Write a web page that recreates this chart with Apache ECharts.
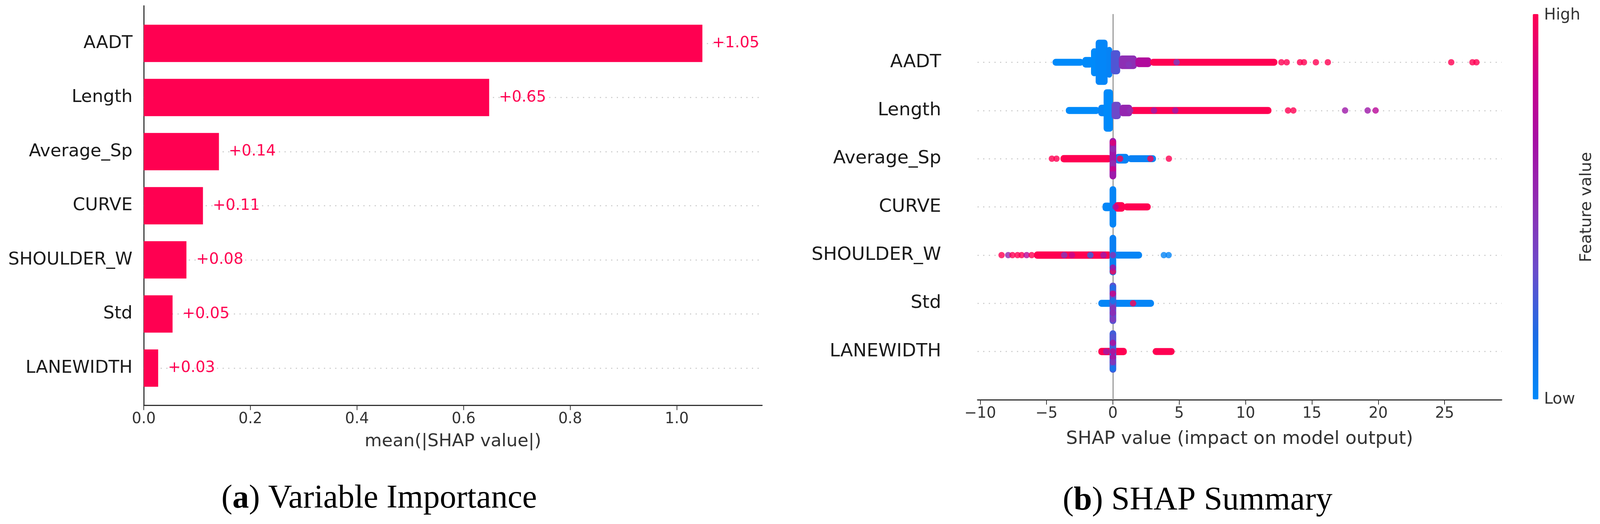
<!DOCTYPE html>
<html>
<head>
<meta charset="utf-8">
<script src="https://cdn.jsdelivr.net/npm/echarts@6/dist/echarts.min.js"></script>
<style>
    html, body { margin: 0; padding: 0; background: #fff; overflow: hidden; }
    #chart { width: 100vw; height: 100vh; }
</style>
</head>
<body>
<div id="chart"></div>
<script>
// feature names, top to bottom
var features = ["AADT", "Length", "Average_Sp", "CURVE", "SHOULDER_W", "Std", "LANEWIDTH"];
// (a) mean(|SHAP value|)
var importance = [1.048, 0.648, 0.141, 0.111, 0.080, 0.054, 0.027];
var importanceTicks = [0, 0.2, 0.4, 0.6, 0.8, 1.0];
// (b) x ticks
var shapTicks = [-10, -5, 0, 5, 10, 15, 20, 25];
var rowIndex = [0, 1, 2, 3, 4, 5, 6];

// beeswarm, dense parts: [feature, shapFrom, shapTo, halfSpread(rows), featureValue 0..1]
var swarmBands = [
    [0, -4.55, -2.2, 0.072, 0.0],
    [0, -2.3, -1.5, 0.11, 0.0],
    [0, -1.65, -1.15, 0.29, 0.0],
    [0, -1.3, -0.4, 0.47, 0.02],
    [0, -0.5, -0.05, 0.32, 0.04],
    [0, -0.15, 0.55, 0.25, 0.28],
    [0, 0.45, 1.8, 0.14, 0.5],
    [0, 1.7, 2.9, 0.10, 0.72],
    [0, 2.8, 12.4, 0.072, 1.0],
    [1, -3.55, -1.0, 0.072, 0.0],
    [1, -1.1, 0.4, 0.12, 0.03],
    [1, -0.7, 0.0, 0.44, 0.0],
    [1, -0.1, 0.6, 0.18, 0.35],
    [1, 0.5, 1.45, 0.12, 0.55],
    [1, 1.3, 11.95, 0.072, 1.0],
    [2, -3.95, -0.1, 0.075, 1.0],
    [2, 0.15, 1.2, 0.10, 0.05],
    [2, 1.1, 3.25, 0.072, 0.05],
    [2, -0.25, 0.25, 0.43, 0.62],
    [3, -0.78, -0.1, 0.09, 0.02],
    [3, -0.25, 0.25, 0.43, 0.03],
    [3, 0.1, 0.9, 0.10, 1.0],
    [3, 0.8, 2.85, 0.072, 1.0],
    [4, -5.95, -0.1, 0.075, 1.0],
    [4, -0.25, 0.25, 0.42, 0.06],
    [4, 0.1, 2.2, 0.072, 0.03],
    [5, -1.1, 3.1, 0.072, 0.03],
    [5, -0.25, 0.25, 0.43, 0.3],
    [6, -1.1, 1.05, 0.075, 1.0],
    [6, 3.0, 4.65, 0.072, 1.0],
    [6, -0.25, 0.25, 0.44, 0.25]
];

// beeswarm, single points: [feature, shap, rowOffset, featureValue]
var swarmDots = [
    [0, 12.7, 0, 1], [0, 13.1, 0, 1], [0, 14.1, 0, 1], [0, 14.4, 0, 1],
    [0, 15.3, 0, 1], [0, 16.2, 0, 1], [0, 25.5, 0, 1], [0, 27.1, 0, 1], [0, 27.4, 0, 1],
    [0, 1.2, 0.05, 0.45], [0, 4.8, 0, 0.4],
    [1, 13.2, 0, 1], [1, 13.6, 0, 1], [1, 17.5, 0, 0.62], [1, 19.2, 0, 0.62], [1, 19.8, 0, 0.75],
    [1, 3.1, 0, 0.6], [1, 4.7, 0, 0.6], [1, 1.3, 0, 0.5],
    [2, -4.6, 0, 1], [2, -4.25, 0, 1], [2, 0.54, 0, 1], [2, 2.83, 0, 1], [2, 4.22, 0, 1],
    [2, 0, -0.33, 0.9], [2, 0, -0.2, 0.5], [2, 0, 0.1, 0.5], [2, 0, 0.22, 0.85], [2, 0, 0.32, 0.6],
    [3, 0.2, 0, 0.75],
    [4, -8.39, 0, 1], [4, -7.89, 0, 0.55], [4, -7.57, 0, 1], [4, -7.19, 0, 1], [4, -6.88, 0, 1],
    [4, -6.5, 0, 0.75], [4, -6.12, 0, 1], [4, -3.67, 0, 0.45], [4, -3.09, 0, 0.8],
    [4, -1.7, 0, 0.2], [4, -0.7, 0, 0.6], [4, 3.84, 0, 0.03], [4, 4.2, 0, 0.03],
    [4, 0, 0.34, 1], [4, 0, 0.26, 0.7], [4, 0, 0, 0.5],
    [5, 1.52, 0, 1], [5, 0, -0.32, 0.15], [5, 0, -0.2, 0.85], [5, 0, -0.05, 0.1],
    [5, 0, 0.1, 0.5], [5, 0, 0.2, 0.55], [5, 0, 0.33, 0.45],
    [6, -0.5, 0, 0.6], [6, 0, -0.3, 0.3], [6, 0, -0.18, 0.75], [6, 0, 0, 0.8],
    [6, 0, 0.12, 0.75], [6, 0, 0.22, 0.5], [6, 0, 0.35, 0.1]
];

// feature value colour scale, low -> high
var featureColors = ["#008afa", "#1a6ce6", "#6a4ccb", "#8d2fb4", "#a50fa5", "#cc008a", "#ff0052"];

(function () {
    var myChart = echarts.init(document.getElementById("chart"));

    // layout is measured on a 4262 x 1341 figure, scaled to the real size
    var sx = myChart.getWidth() / 4262;
    var sy = myChart.getHeight() / 1341;
    var s = Math.min(sx, sy);
    function X(v) { return v * sx; }
    function Y(v) { return v * sy; }
    function F(v) { return v * s; }

    var red = "#ff0051";
    var dotR = F(8.5);
    var dotted = { color: "#cccccc", type: [F(3), F(12)], width: F(3) };
    var spine = { color: "#333", width: F(3) };

    var bandData = swarmBands.map(function (b) {
        return [b[4], b[0], b[1], b[2], b[3]];
    });
    var dotData = swarmDots.map(function (d) {
        return [d[3], d[1], d[0] + d[2]];
    });

    var option = {
        animation: false,
        textStyle: { fontFamily: "DejaVu Sans" },
        grid: [
            { left: X(383), right: X(2232), top: Y(15), bottom: Y(304) },          // (a) spines
            { left: X(383), right: X(2232), top: Y(41.75), bottom: Y(329.75) },    // (a) bars
            { left: X(2604), right: X(262), top: Y(36), bottom: Y(318) }           // (b)
        ],
        xAxis: [
            {
                gridIndex: 0, type: "value", min: 0, max: 1.16,
                name: "mean(|SHAP value|)", nameLocation: "middle", nameGap: F(74),
                nameTextStyle: { fontSize: F(47), color: "#333" },
                axisLine: { show: true, onZero: false, lineStyle: spine },
                axisTick: { show: true, length: F(13), customValues: importanceTicks, lineStyle: { color: "#333", width: F(2) } },
                axisLabel: {
                    customValues: importanceTicks, fontSize: F(40), color: "#333", margin: F(18),
                    formatter: function (v) { return v.toFixed(1); }
                },
                splitLine: { show: false }
            },
            { gridIndex: 1, type: "value", min: 0, max: 1.16, show: false },
            {
                gridIndex: 2, type: "value", min: -10.2, max: 29.3,
                name: "SHAP value (impact on model output)", nameLocation: "middle", nameGap: F(80),
                nameTextStyle: { fontSize: F(49), color: "#333" },
                axisLine: { show: true, onZero: false, lineStyle: spine },
                axisTick: { show: true, length: F(13), customValues: shapTicks, lineStyle: { color: "#333", width: F(2) } },
                axisLabel: {
                    customValues: shapTicks, fontSize: F(40), color: "#333", margin: F(18),
                    formatter: function (v) { return v < 0 ? "\u2212" + Math.abs(v) : String(v); }
                },
                splitLine: { show: false }
            }
        ],
        yAxis: [
            {
                gridIndex: 0, type: "value", min: 0, max: 1,
                axisLine: { show: true, onZero: false, lineStyle: spine },
                axisTick: { show: false }, axisLabel: { show: false }, splitLine: { show: false }
            },
            {
                gridIndex: 1, type: "category", inverse: true, data: features,
                axisLine: { show: false }, axisTick: { show: false },
                axisLabel: { fontSize: F(47), color: "#1a1a1a", margin: F(30) }
            },
            {
                gridIndex: 2, type: "value", min: -1, max: 7, inverse: true,
                axisLine: { show: false }, axisTick: { show: false }, splitLine: { show: false },
                axisLabel: {
                    customValues: rowIndex, fontSize: F(49), color: "#1a1a1a", margin: F(97),
                    formatter: function (v) { return features[v] || ""; }
                }
            }
        ],
        visualMap: {
            type: "continuous", min: 0, max: 1, dimension: 0, seriesIndex: [1, 2],
            orient: "vertical", left: X(4083), top: Y(36), itemWidth: F(15), itemHeight: Y(986),
            padding: 0, calculable: false, hoverLink: false, showLabel: false,
            inRange: { color: featureColors }
        },
        series: [
            {
                name: "mean(|SHAP value|)",
                type: "bar",
                xAxisIndex: 1, yAxisIndex: 1,
                data: importance,
                barWidth: "69%",
                itemStyle: { color: red },
                label: {
                    show: true, position: "right", distance: F(26), color: red, fontSize: F(41),
                    formatter: function (p) { return "+" + p.value.toFixed(2); }
                },
                markLine: {
                    silent: true, symbol: "none", z: 1,
                    label: { show: false }, lineStyle: dotted,
                    data: features.map(function (f) { return { yAxis: f }; })
                }
            },
            {
                name: "swarm",
                type: "custom",
                xAxisIndex: 2, yAxisIndex: 2,
                z: 3,
                encode: { x: [2, 3], y: 1 },
                data: bandData,
                renderItem: function (params, api) {
                    var f = api.value(1), a = api.value(2), b = api.value(3), h = api.value(4);
                    var p0 = api.coord([a, f - h]);
                    var p1 = api.coord([b, f + h]);
                    var x = Math.min(p0[0], p1[0]), y = Math.min(p0[1], p1[1]);
                    var w = Math.abs(p1[0] - p0[0]), hh = Math.abs(p1[1] - p0[1]);
                    return {
                        type: "rect",
                        shape: { x: x, y: y, width: w, height: hh, r: Math.min(dotR, w / 2, hh / 2) },
                        style: { fill: api.visual("color") }
                    };
                },
                markLine: {
                    silent: true, symbol: "none", z: 1,
                    label: { show: false }, lineStyle: dotted,
                    data: rowIndex.map(function (i) { return { yAxis: i }; }).concat([
                        { xAxis: 0, lineStyle: { color: "#999999", type: "solid", width: F(3) } }
                    ])
                }
            },
            {
                name: "points",
                type: "scatter",
                xAxisIndex: 2, yAxisIndex: 2,
                z: 4,
                encode: { x: 1, y: 2 },
                symbolSize: F(17),
                data: dotData
            }
        ],
        graphic: [
            {
                type: "text", x: X(1010), y: Y(1277),
                style: {
                    text: "({b|a}) Variable Importance",
                    fontFamily: "Liberation Serif", fontSize: F(88), fill: "#000",
                    align: "center", verticalAlign: "middle",
                    rich: { b: { fontFamily: "Liberation Serif", fontSize: F(88), fontWeight: "bold", fill: "#000" } }
                }
            },
            {
                type: "text", x: X(3190), y: Y(1282),
                style: {
                    text: "({b|b}) SHAP Summary",
                    fontFamily: "Liberation Serif", fontSize: F(88), fill: "#000",
                    align: "center", verticalAlign: "middle",
                    rich: { b: { fontFamily: "Liberation Serif", fontSize: F(88), fontWeight: "bold", fill: "#000" } }
                }
            },
            {
                type: "text", x: X(4113), y: Y(40),
                style: { text: "High", fontFamily: "DejaVu Sans", fontSize: F(42), fill: "#333", align: "left", verticalAlign: "middle" }
            },
            {
                type: "text", x: X(4113), y: Y(1023),
                style: { text: "Low", fontFamily: "DejaVu Sans", fontSize: F(42), fill: "#333", align: "left", verticalAlign: "middle" }
            },
            {
                type: "text", x: X(4227), y: Y(530), rotation: Math.PI / 2,
                style: { text: "Feature value", fontFamily: "DejaVu Sans", fontSize: F(43), fill: "#333", align: "center", verticalAlign: "middle" }
            }
        ]
    };

    myChart.setOption(option);
    window.addEventListener("resize", function () {
        myChart.resize();
    });
})();
</script>
</body>
</html>
